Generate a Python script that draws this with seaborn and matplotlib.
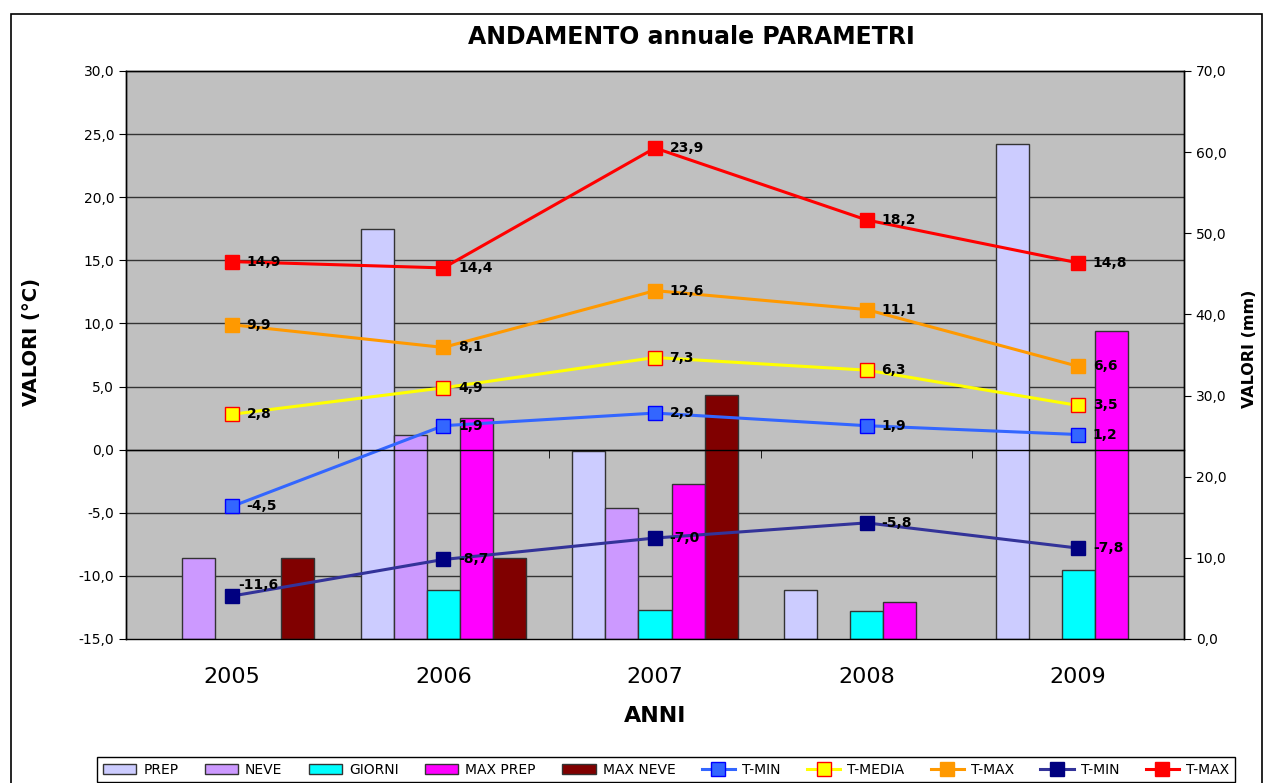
import numpy as np
import pandas as pd
import matplotlib
matplotlib.use('Agg')
import matplotlib.pyplot as plt
from matplotlib.ticker import FixedLocator, MultipleLocator, LinearLocator, FuncFormatter
from matplotlib.patches import Rectangle
import seaborn as sns

anni = ['2005', '2006', '2007', '2008', '2009']

# barre, asse destro (mm) - NaN = dato mancante
prep = [np.nan, 50.5, 23.2, 6.0, 61.0]
neve = [10.0, 25.2, 16.1, np.nan, np.nan]
giorni = [np.nan, 6.0, 3.6, 3.5, 8.5]
max_prep = [np.nan, 27.2, 19.1, 4.6, 38.0]
max_neve = [10.0, 10.0, 30.1, np.nan, np.nan]

# linee, asse sinistro (°C)
t_min = [-4.5, 1.9, 2.9, 1.9, 1.2]
t_media = [2.8, 4.9, 7.3, 6.3, 3.5]
t_max = [9.9, 8.1, 12.6, 11.1, 6.6]
t_min_ass = [-11.6, -8.7, -7.0, -5.8, -7.8]
t_max_ass = [14.9, 14.4, 23.9, 18.2, 14.8]

serie_barre = ['PREP', 'NEVE', 'GIORNI', 'MAX PREP', 'MAX NEVE']
colori_barre = ['#CCCCFF', '#CC99FF', '#00FFFF', '#FF00FF', '#800000']

# (etichetta, valori, colore linea, colore marker, bordo marker)
linee = [
    ('T-MIN', t_min, '#3366FF', '#3366FF', '#0000FF'),
    ('T-MEDIA', t_media, '#FFFF00', '#FFFF00', '#FF0000'),
    ('T-MAX', t_max, '#FF9900', '#FF9900', '#FF9900'),
    ('T-MIN', t_min_ass, '#333399', '#000080', '#000080'),
    ('T-MAX', t_max_ass, '#FF0000', '#FF0000', '#FF0000'),
]

df = pd.DataFrame({
    'anno': anni * 5,
    'serie': [s for s in serie_barre for _ in anni],
    'mm': prep + neve + giorni + max_prep + max_neve,
})


def virgola(v, pos=None):
    return f"{v:.1f}".replace('.', ',')


fig = plt.figure(figsize=(12.66, 7.83), dpi=100)
W, H = 1266, 783
ax = fig.add_axes([126 / W, 1 - 639 / H, (1184 - 126) / W, (639 - 71) / H])
ax.set_facecolor('#C0C0C0')

sns.barplot(data=df, x='anno', y='mm', hue='serie', hue_order=serie_barre,
            palette=colori_barre, saturation=1, width=0.78, errorbar=None,
            edgecolor='#333333', linewidth=1, ax=ax)
leg = ax.get_legend()
handles = list(leg.legend_handles)
labels = [t.get_text() for t in leg.get_texts()]
leg.remove()

ax2 = ax.twinx()
for lab, vals, col, mfc, mec in linee:
    sns.lineplot(x=np.arange(len(anni)), y=vals, ax=ax2, color=col, lw=2.2,
                 marker='s', markersize=10, markerfacecolor=mfc,
                 markeredgecolor=mec, markeredgewidth=1, label=lab)
    for i, v in enumerate(vals):
        off = (4.5, 8) if v == -11.6 else (10.5, 0)
        ax2.annotate(virgola(v), (i, v), xytext=off, textcoords='offset points',
                     ha='left', va='center', fontsize=10, fontweight='bold')
h2, l2 = ax2.get_legend_handles_labels()
ax2.get_legend().remove()

# asse mm a destra, asse °C a sinistra
ax.set_ylim(0, 70)
ax.yaxis.tick_right()
ax.yaxis.set_major_locator(MultipleLocator(10))
ax.yaxis.set_major_formatter(FuncFormatter(virgola))
ax.yaxis.set_minor_locator(LinearLocator(10))
ax.grid(which='minor', axis='y', color='#333333', lw=1)
ax.grid(which='major', visible=False)
ax.set_axisbelow(True)
ax.tick_params(axis='y', which='minor', length=0)
ax.tick_params(axis='y', which='major', length=5, labelsize=10, right=True, left=False)
ax.set_ylabel('')

ax2.set_ylim(-15, 30)
ax2.yaxis.tick_left()
ax2.yaxis.set_major_locator(MultipleLocator(5))
ax2.yaxis.set_major_formatter(FuncFormatter(virgola))
ax2.tick_params(axis='y', length=5, labelsize=10, left=True, right=False)

# categorie
ax.set_xlim(-0.5, len(anni) - 0.5)
ax.xaxis.set_minor_locator(FixedLocator(np.arange(len(anni) - 1) + 0.5))
ax.tick_params(axis='x', which='major', length=0, labelsize=16, pad=20)
ax.tick_params(axis='x', which='minor', length=0)
ax.set_xlabel('ANNI', fontsize=16, fontweight='bold', labelpad=14)

# linea dello zero con tacche tra le categorie
ax2.xaxis.set_visible(True)
ax2.spines['bottom'].set_position(('data', 0))
ax2.tick_params(axis='x', which='major', length=0, labelbottom=False)
ax2.tick_params(axis='x', which='minor', length=6, bottom=True, color='black')
for a in (ax, ax2):
    for sp in a.spines.values():
        sp.set_color('black')
        sp.set_linewidth(1)

fig.text(32 / W, 1 - 342 / H, 'VALORI (°C)', rotation=90, ha='center', va='center',
         fontsize=14, fontweight='bold')
fig.text(1250 / W, 1 - 349 / H, 'VALORI (mm)', rotation=90, ha='center', va='center',
         fontsize=11.5, fontweight='bold')
fig.text(691 / W, 1 - 37 / H, 'ANDAMENTO annuale PARAMETRI', ha='center', va='center',
         fontsize=17, fontweight='bold')

fig.legend(handles + h2, labels + l2, loc='upper center',
           bbox_to_anchor=(666 / W, 1 - 750 / H), ncol=10, fontsize=10,
           frameon=True, fancybox=False, edgecolor='black', framealpha=1,
           handlelength=2.4, handletextpad=0.5, columnspacing=1.9,
           borderpad=0.4)

fig.add_artist(Rectangle((11 / W, -0.05), (1262 - 11) / W, 1.05 - 14 / H,
                         transform=fig.transFigure, fill=False,
                         edgecolor='black', lw=1.2))

fig.savefig('out.png', dpi=100)
